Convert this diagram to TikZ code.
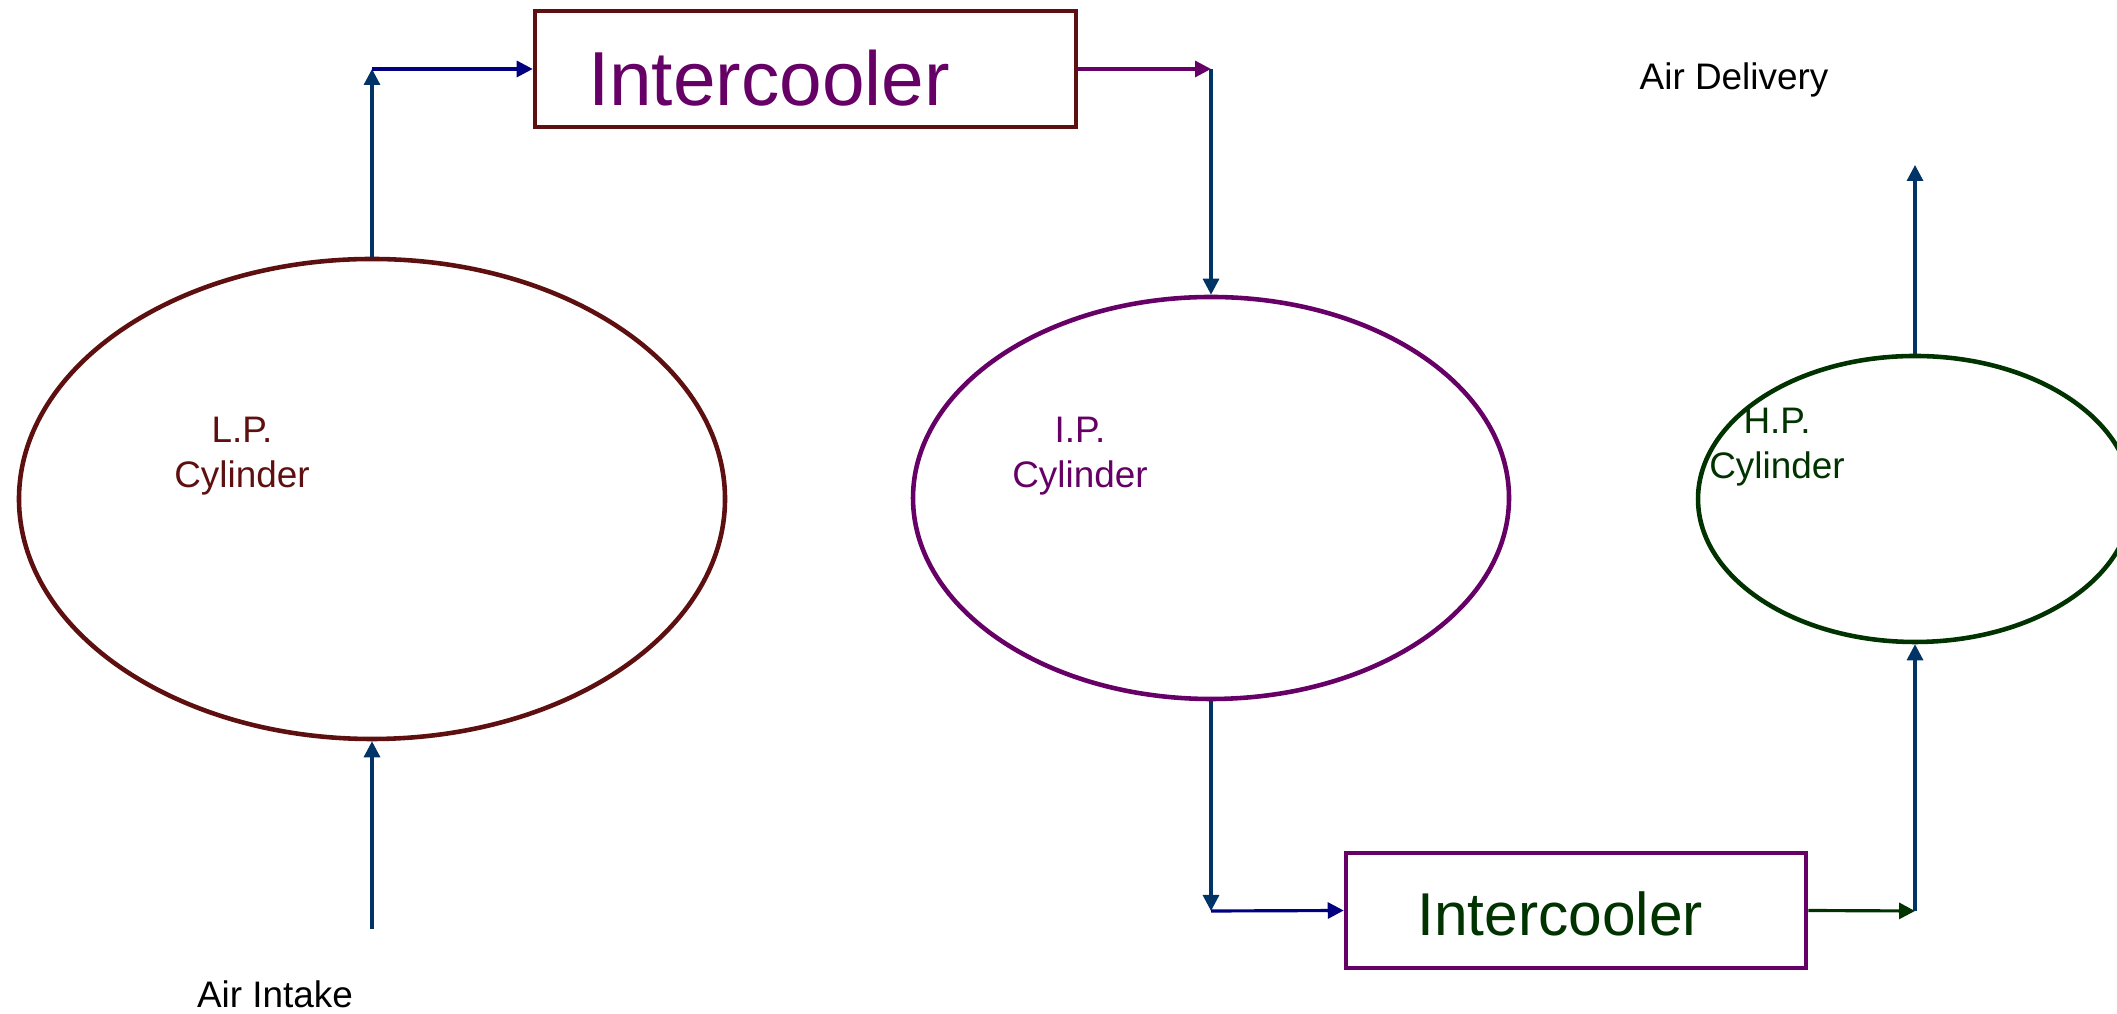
\documentclass[tikz,border=0pt]{standalone}
\usepackage{fontspec}
\setmainfont{Liberation Sans}
\usetikzlibrary{arrows.meta,positioning,shapes.geometric}
\definecolor{maroon}{RGB}{94,16,16}
\definecolor{plum}{RGB}{102,0,102}
\definecolor{forest}{RGB}{0,51,0}
\definecolor{steel}{RGB}{0,51,102}
\definecolor{navyblue}{RGB}{0,0,128}
\tikzset{
  >={Triangle[length=1.6mm,width=1.6mm]},
  cyl/.style={ellipse,draw=#1,line width=1.3pt,inner sep=0pt},
  cyl/.default=maroon,
  cooler/.style={rectangle,draw=#1,line width=1.3pt,inner sep=0pt},
  cooler/.default=maroon,
  flow/.style={->,line width=0.9pt,draw=#1},
  flow/.default=steel,
  tag/.style={font=\fontsize{10.5}{13}\selectfont,align=center,text=#1},
  tag/.default=black,
}

\begin{document}
\begin{tikzpicture}
  \useasboundingbox (0,0) rectangle (21.17,10.14);
  % cylinders
  \node[cyl=maroon,minimum width=70.6mm,minimum height=48mm] (lp) at (3.72,5.15) {};
  \node[cyl=plum,minimum width=59.6mm,minimum height=40.2mm] (ip) at (12.11,5.16) {};
  \node[cyl=forest,minimum width=43.4mm,minimum height=28.6mm] (hp) at (19.15,5.15) {};
  \node[tag=maroon] (lpt) at (2.42,5.58) {L.P.\\Cylinder};
  \node[tag=plum] (ipt) at (10.80,5.58) {I.P.\\Cylinder};
  \node[tag=forest] (hpt) at (17.77,5.67) {H.P.\\Cylinder};
  % intercoolers
  \node[cooler=maroon,minimum width=54.1mm,minimum height=11.6mm] (ic1) at (8.055,9.45) {};
  \node[cooler=plum,minimum width=46mm,minimum height=11.5mm] (ic2) at (15.76,1.035) {};
  \node[text=plum,font=\fontsize{21.8}{26}\selectfont] (ic1t) at (7.69,9.36) {Intercooler};
  \node[text=forest,font=\fontsize{17.2}{21}\selectfont] (ic2t) at (15.60,1.00) {Intercooler};
  % bends and free ends
  \coordinate (c1) at (3.72,9.45);
  \coordinate (c2) at (12.11,9.45);
  \coordinate (c3) at (12.11,1.03);
  \coordinate (c4) at (19.15,1.03);
  \coordinate (in) at (3.72,0.85);
  \coordinate (out) at (19.15,8.49);
  \node[tag] (intake) at (2.75,0.20) {Air Intake};
  \node[tag] (delivery) at (17.34,9.34) {Air Delivery};
  % air flow
  \draw[flow] (in) -- (lp.south);
  \draw[flow] (lp.north) -- (c1);
  \draw[flow=navyblue] (c1) -- (ic1.west);
  \draw[flow=plum] (ic1.east) -- (c2);
  \draw[flow] (c2) -- (ip.north);
  \draw[flow] (ip.south) -- (c3);
  \draw[flow=navyblue] (c3) -- (ic2.west);
  \draw[flow=forest] (ic2.east) -- (c4);
  \draw[flow] (c4) -- (hp.south);
  \draw[flow] (hp.north) -- (out);
\end{tikzpicture}
\end{document}
